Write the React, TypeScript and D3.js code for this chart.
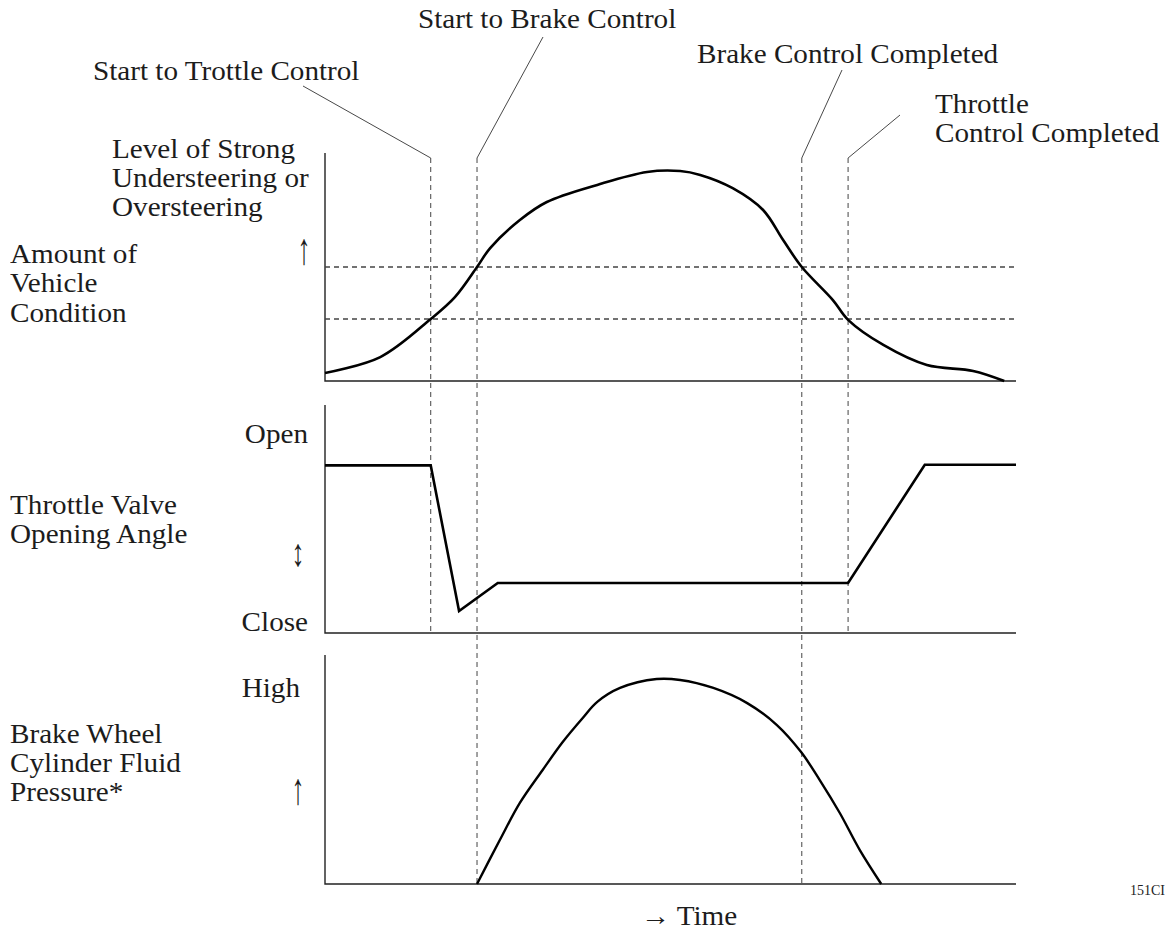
import React from "react"
import { scaleLinear, line, curveCatmullRom, curveLinear } from "d3"

// time axis runs 0..100, every panel value axis runs 0..100
const eventTimes = [15.3, 22, 69, 75.7]
const eventReach = [1, 2, 2, 1] // index of the lowest panel each dashed line crosses

const thresholdLevels = [50, 27.2]

const conditionTime = [0, 8, 15.3, 18.8, 22, 23.9, 28.2, 32.1, 39.4, 46.6, 51.4, 54.3, 59, 63.4, 66.3, 69, 73.5, 75.7, 80.8, 87.1, 93.8, 98.3]
const conditionValue = [3.5, 10.5, 27.2, 36.8, 50, 58.3, 70.6, 78.5, 86, 91.7, 92.1, 90.4, 84.6, 75, 61.8, 50, 35.5, 26.8, 15.8, 7, 4.4, 0]

const throttleTime = [0, 15.3, 19.4, 25, 75.7, 86.8, 100]
const throttleValue = [73.5, 73.5, 9.6, 21.9, 21.9, 73.8, 73.8]

const brakeTime = [22, 25.3, 28.2, 31.5, 34.4, 37.3, 39.4, 42.7, 48, 51.4, 56.2, 61.1, 65.4, 68.9, 71.6, 74.5, 77.4, 80.5]
const brakeValue = [0, 19.2, 35.4, 49.8, 62, 72.5, 79.5, 85.6, 89.5, 89.1, 85.6, 79, 69.4, 57.6, 45.4, 31, 14.8, 0]

const panels = [
  { top: 153, bottom: 381 },
  { top: 405, bottom: 633 },
  { top: 655, bottom: 884 },
]

const FONT = "'Liberation Serif', 'Times New Roman', serif"

type LabelProps = { x: number, y: number, lines: string[], anchor?: string, size?: number, gap?: number, sx?: number, sy?: number }

const Label = ({ x, y, lines, anchor = "start", size = 27, gap = 29, sx = 1.08, sy = 1 }: LabelProps) =>
  <text transform={`translate(${x},${y}) scale(${sx},${sy})`} fontFamily={FONT} fontSize={size} textAnchor={anchor} fill="#1a1a1a" opacity={0.99}>
    {lines.map((l, i) => <tspan key={i} x={0} y={i * gap / sy}>{l}</tspan>)}
  </text>

export default function App() {
  const x = scaleLinear([0, 100], [325, 1016])
  const ys = panels.map(p => scaleLinear([0, 100], [p.bottom, p.top]))
  const dashTop = 158

  const curvePath = (ts: number[], vs: number[], y: any, smooth: boolean) =>
    line<number>()
      .x(t => x(t))
      .y((_, i) => y(vs[i]))
      .curve(smooth ? curveCatmullRom.alpha(0.5) : curveLinear)(ts) ?? ""

  // label anchor points for the leader lines
  const leaderFrom = [[303, 86], [543, 37], [842, 70], [900, 115]]

  return (
    <svg width={1166} height={930} style={{ position: "absolute", left: 0, top: 0, background: "#fff" }}>
      {panels.map((p, i) =>
        <path key={i} d={`M${x(0)},${p.top}V${p.bottom}H${x(100)}`} fill="none" stroke="#222" strokeWidth={1.4} />
      )}

      {thresholdLevels.map((v, i) =>
        <line key={i} x1={x(0)} x2={x(100)} y1={ys[0](v)} y2={ys[0](v)} stroke="#444" strokeWidth={1.3} strokeDasharray="5,4" />
      )}

      {eventTimes.map((t, i) =>
        <g key={i}>
          <line x1={x(t)} x2={x(t)} y1={dashTop} y2={panels[eventReach[i]].bottom} stroke="#444" strokeWidth={1} strokeDasharray="5,4" />
          <line x1={leaderFrom[i][0]} y1={leaderFrom[i][1]} x2={x(t)} y2={dashTop} stroke="#333" strokeWidth={0.9} />
        </g>
      )}

      <path d={curvePath(conditionTime, conditionValue, ys[0], true)} fill="none" stroke="#000" strokeWidth={2.6} />
      <path d={curvePath(throttleTime, throttleValue, ys[1], false)} fill="none" stroke="#000" strokeWidth={2.6} strokeLinejoin="miter" />
      <path d={curvePath(brakeTime, brakeValue, ys[2], true)} fill="none" stroke="#000" strokeWidth={2.4} />

      <Label x={418} y={28} lines={["Start to Brake Control"]} />
      <Label x={93} y={80} lines={["Start to Trottle Control"]} />
      <Label x={697} y={63} lines={["Brake Control Completed"]} />
      <Label x={935} y={113} lines={["Throttle", "Control Completed"]} />

      <Label x={112} y={158} lines={["Level of Strong", "Understeering or", "Oversteering"]} />
      <Label x={10} y={263} lines={["Amount of", "Vehicle", "Condition"]} gap={29.5} />
      <Label x={10} y={514} lines={["Throttle Valve", "Opening Angle"]} />
      <Label x={10} y={743} lines={["Brake Wheel", "Cylinder Fluid", "Pressure*"]} />

      <Label x={308} y={443} lines={["Open"]} anchor="end" />
      <Label x={308} y={631} lines={["Close"]} anchor="end" />
      <Label x={300} y={697} lines={["High"]} anchor="end" />

      <Label x={304} y={264} lines={["↑"]} anchor="middle" size={26} sx={1} sy={1.7} />
      <Label x={298} y={566} lines={["↕"]} anchor="middle" size={26} sx={1} sy={1.5} />
      <Label x={298} y={804} lines={["↑"]} anchor="middle" size={26} sx={1} sy={1.7} />

      <Label x={689} y={925} lines={["→ Time"]} anchor="middle" />
      <text x={1130} y={895} fontFamily={FONT} fontSize={14} fill="#222">151CI</text>
    </svg>
  )
}
